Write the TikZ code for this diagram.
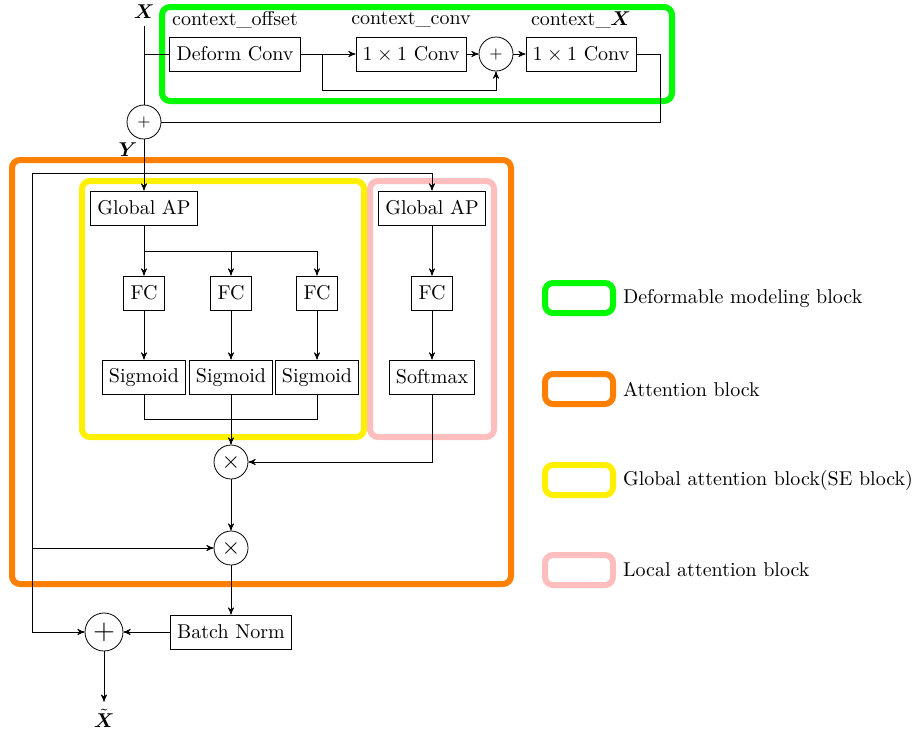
\documentclass[tikz,border=0pt]{standalone}
\usepackage{amsmath}
\usepackage{amssymb}
\usepackage{xcolor}
\usepackage{tikz}
\usetikzlibrary{arrows,positioning}
\tikzset{>=stealth'}

\definecolor{mygreen}{RGB}{0,250,0}
\definecolor{myorange}{RGB}{255,128,0}
\definecolor{myyellow}{RGB}{255,240,0}
\definecolor{mypink}{RGB}{255,190,190}

\begin{document}
\begin{tikzpicture}[x=0.5pt, y=-0.5pt,
                    mybox/.style={draw, thin, minimum height=17pt, inner sep=3.33pt},
                    myop/.style={draw, thin, circle, minimum size=17pt, inner sep=0pt},
                    frame/.style={line width=3pt, rounded corners=4pt},
                   ]

\useasboundingbox (0,0) rectangle (913,730);

% coloured blocks
\draw[frame, mygreen]  (162,7)   rectangle (672,101);
\draw[frame, myorange] (12,160)  rectangle (511,584);
\draw[frame, myyellow] (82,181)  rectangle (364,437);
\draw[frame, mypink]   (370,181) rectangle (494,437);

% deformable modeling
\node (xin) at (144,12) {$\boldsymbol{X}$};
\node[mybox] (deform) at (235,54) {Deform Conv};
\node[mybox] (conva) at (411,54) {$1\times1$ Conv};
\node[myop] (plusa) at (496,54) {\footnotesize$+$};
\node[mybox] (convb) at (581,54) {$1\times1$ Conv};
\node at (235,20) {context\_offset};
\node at (411,20) {context\_conv};
\node at (581,20) {context\_$\boldsymbol{X}$};
\node[myop] (plusy) at (144,122) {\footnotesize$+$};
\node (ylab) at (128,150) {$\boldsymbol{Y}$};

\draw (xin.south) -- (plusy.north);
\draw (deform.west -| xin) -- (deform.west);
\draw[->] (deform.east) -- (conva.west);
\draw[->] (deform.east) -- ++(22,0) -- ++(0,36) -| (plusa.south);
\draw[->] (conva.east) -- (plusa.west);
\draw[->] (plusa.east) -- (convb.west);
\draw (convb.east) -- ++(24,0) |- (plusy.east);

% attention
\node[mybox] (gapl) at (144,208) {Global AP};
\node[mybox] (gapr) at (432,208) {Global AP};
\node[mybox] (fca) at (144,293) {FC};
\node[mybox] (fcb) at (231,293) {FC};
\node[mybox] (fcc) at (317,293) {FC};
\node[mybox] (fcd) at (432,293) {FC};
\node[mybox] (siga) at (144,377) {Sigmoid};
\node[mybox] (sigb) at (231,377) {Sigmoid};
\node[mybox] (sigc) at (317,377) {Sigmoid};
\node[mybox] (soft) at (432,377) {Softmax};
\node[myop] (mula) at (231,462) {\large$\times$};
\node[myop] (mulb) at (231,548) {\large$\times$};
\node[mybox] (bn) at (231,632) {Batch Norm};
\node[myop, minimum size=19pt] (plusout) at (104,632) {\Large$+$};
\node (xout) at (104,718) {$\tilde{\boldsymbol{X}}$};

\coordinate (skip) at (32,173);

\draw[->] (plusy.south) -- (gapl.north);
\draw[->] (skip) -| (gapr.north);
\draw[->] (skip) |- (plusout.west);
\draw[->] (skip |- mulb) -- (mulb.west);

\draw[->] (gapl.south) -- (fca.north);
\draw[->] (gapl.south) -- ++(0,26) -| (fcb.north);
\draw[->] (gapl.south) -- ++(0,26) -| (fcc.north);
\draw[->] (gapr.south) -- (fcd.north);
\draw[->] (fca.south) -- (siga.north);
\draw[->] (fcb.south) -- (sigb.north);
\draw[->] (fcc.south) -- (sigc.north);
\draw[->] (fcd.south) -- (soft.north);
\draw (siga.south) -- ++(0,25) -| (sigc.south);
\draw[->] (sigb.south) -- (mula.north);
\draw[->] (soft.south) |- (mula.east);
\draw[->] (mula.south) -- (mulb.north);
\draw[->] (mulb.south) -- (bn.north);
\draw[->] (bn.west) -- (plusout.east);
\draw[->] (plusout.south) -- (xout.north);

% legend
\foreach \col/\yy/\txt in {mygreen/298/{Deformable modeling block},
                           myorange/389/{Attention block},
                           myyellow/480/{Global attention block(SE block)},
                           mypink/570/{Local attention block}}
{
  \draw[frame, \col] (545,\yy-15) rectangle (613,\yy+15);
  \node[anchor=west] at (616,\yy) {\txt};
}

\end{tikzpicture}
\end{document}
